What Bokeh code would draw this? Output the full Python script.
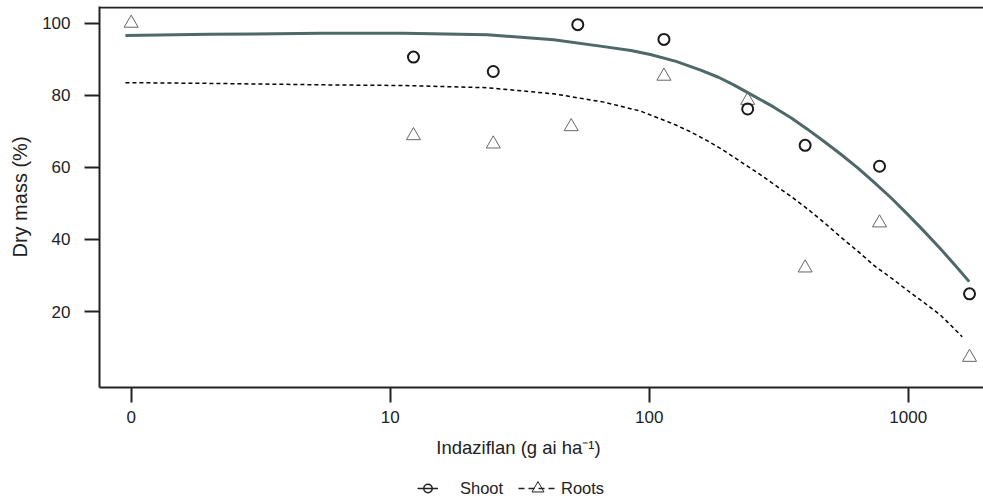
from bokeh.plotting import figure
from bokeh.layouts import column
from bokeh.models import Range1d, FixedTicker, Span, Legend, LegendItem, Label
from bokeh.embed import file_html
from bokeh.resources import INLINE

# ---- data (dose in g ai/ha, dry mass in %) ----
shoot_dose = [12.3, 25, 53, 114, 240, 400, 775, 1725]
shoot_mass = [90.6, 86.6, 99.6, 95.5, 76.2, 66.1, 60.3, 24.9]

root_dose = [0, 12.3, 25, 50, 114, 240, 400, 775, 1725]
root_mass = [100, 68.8, 66.5, 71.3, 85.3, 78.6, 32.1, 44.6, 7.3]

# fitted dose-response curves
shoot_fit_dose = [0.95, 2, 5.4, 11.3, 23.7, 42.8, 66.8, 85, 101, 127, 158, 185, 212, 255,
                  303, 355, 408, 475, 548, 640, 737, 860, 991, 1150, 1332, 1520, 1720]
shoot_fit_mass = [96.6, 96.9, 97.2, 97.2, 96.8, 95.4, 93.5, 92.4, 91.3, 89.4, 87.0, 85.0,
                  82.9, 79.7, 76.7, 73.6, 70.6, 67.1, 63.7, 59.8, 55.9, 51.5, 47.1, 42.3,
                  37.4, 32.8, 28.3]

root_fit_dose = [0.95, 2, 5.4, 11.3, 23.7, 42.8, 66.8, 92.6, 124.5, 145, 167.5, 195, 225,
                 262, 303, 355, 408, 475, 548, 640, 737, 860, 991, 1150, 1332, 1470, 1616]
root_fit_mass = [83.5, 83.3, 82.9, 82.7, 82.1, 80.4, 78.1, 75.6, 72.0, 69.8, 67.4, 64.6,
                 61.6, 58.5, 55.3, 51.8, 48.5, 44.6, 40.7, 36.7, 32.8, 29.3, 25.9, 22.5,
                 19.0, 16.0, 13.0]

x_ticks = [1, 10, 100, 1000]
x_tick_labels = ["0", "10", "100", "1000"]
y_ticks = [20, 40, 60, 80, 100]

# dose 0 is drawn at the position of 1 on the log axis (drc convention)
ZERO_POS = 1
root_dose_pos = [d if d > 0 else ZERO_POS for d in root_dose]

FONT = "Liberation Sans"
INK = "#222222"

# ---------------- main plot ----------------
p = figure(width=983, height=435, x_axis_type="log",
           x_range=Range1d(0.7545, 1953), y_range=Range1d(-1.08, 104.63),
           output_backend="svg", toolbar_location=None,
           min_border_left=99, min_border_right=0, min_border_top=6, min_border_bottom=48)
p.outline_line_color = None
p.grid.visible = False
p.background_fill_color = "white"

for ax in (p.xaxis[0], p.yaxis[0]):
    ax.axis_line_color = INK
    ax.axis_line_width = 2
    ax.major_tick_line_color = INK
    ax.major_tick_line_width = 2
    ax.major_tick_out = 15
    ax.major_tick_in = 0
    ax.minor_tick_line_color = None
    ax.major_label_text_font = FONT
    ax.major_label_text_font_size = "17px"
    ax.major_label_text_color = INK

p.xaxis.ticker = FixedTicker(ticks=x_ticks)
p.xaxis.major_label_overrides = {t: l for t, l in zip(x_ticks, x_tick_labels)}
p.xaxis.major_label_standoff = 8
p.yaxis.ticker = FixedTicker(ticks=y_ticks)
p.yaxis.major_label_standoff = 14
p.yaxis.axis_label = "Dry mass (%)"
p.yaxis.axis_label_text_font = FONT
p.yaxis.axis_label_text_font_size = "20px"
p.yaxis.axis_label_text_font_style = "normal"
p.yaxis.axis_label_text_color = INK
p.yaxis.axis_label_standoff = 8

# top border
p.add_layout(Span(location=104.35, dimension="width", line_color=INK, line_width=2))

# fitted curves
p.line(shoot_fit_dose, shoot_fit_mass, line_color="#4f6868", line_width=3,
       line_join="round")
p.line(root_fit_dose, root_fit_mass, line_color="black", line_width=1.5, line_dash="4 3")

# observations
p.scatter(root_dose_pos, root_mass, marker="triangle", size=14,
          fill_color=None, line_color="#666666", line_width=1)
p.scatter(shoot_dose, shoot_mass, marker="circle", size=11,
          fill_color=None, line_color="#1a1a1a", line_width=2)

# ---------------- strip below: x title + legend ----------------
# (its frame is aligned with the main plot's frame, so x is measured from the y axis)
q = figure(width=983, height=68, x_range=Range1d(0, 884), y_range=Range1d(0, 68),
           x_axis_type=None, y_axis_type=None, output_backend="svg", toolbar_location=None,
           min_border_left=0, min_border_right=0, min_border_top=0, min_border_bottom=0)
q.outline_line_color = None
q.background_fill_color = "white"

q.add_layout(Label(x=419, y=56, x_units="screen", y_units="screen",
                   text="Indaziflan (g ai ha\u207b\u00b9)", text_align="center",
                   text_baseline="middle", text_font=FONT, text_font_size="18.5px",
                   text_color=INK))

# legend-only renderers (hidden)
lg_l1 = q.line(shoot_fit_dose, shoot_fit_mass, line_color=INK, line_width=1.5, visible=False)
lg_p1 = q.scatter(shoot_dose, shoot_mass, marker="circle", fill_color=None,
                  line_color=INK, line_width=1.5, visible=False)
lg_l2 = q.line(root_fit_dose, root_fit_mass, line_color=INK, line_width=1.5,
               line_dash="6 4", visible=False)
lg_p2 = q.scatter(root_dose_pos, root_mass, marker="triangle", fill_color=None,
                  line_color=INK, line_width=1, visible=False)


def add_legend(label, rends, loc, gw, gh, standoff):
    q.add_layout(Legend(items=[LegendItem(label=label, renderers=rends)], location=loc,
                        orientation="horizontal", glyph_width=gw, glyph_height=gh,
                        label_standoff=standoff, padding=0, margin=0, spacing=0,
                        border_line_color=None, background_fill_alpha=0,
                        inactive_fill_alpha=0, label_text_font=FONT,
                        label_text_font_size="16.5px", label_text_color=INK))


add_legend("Shoot", [lg_l1, lg_p1], (318, 4), 21, 22, 22)
add_legend("Roots", [lg_l2, lg_p2], (419, 0), 39, 30, 4)

layout = column(p, q, spacing=0)
open("out.html", "w").write(file_html(layout, INLINE))
